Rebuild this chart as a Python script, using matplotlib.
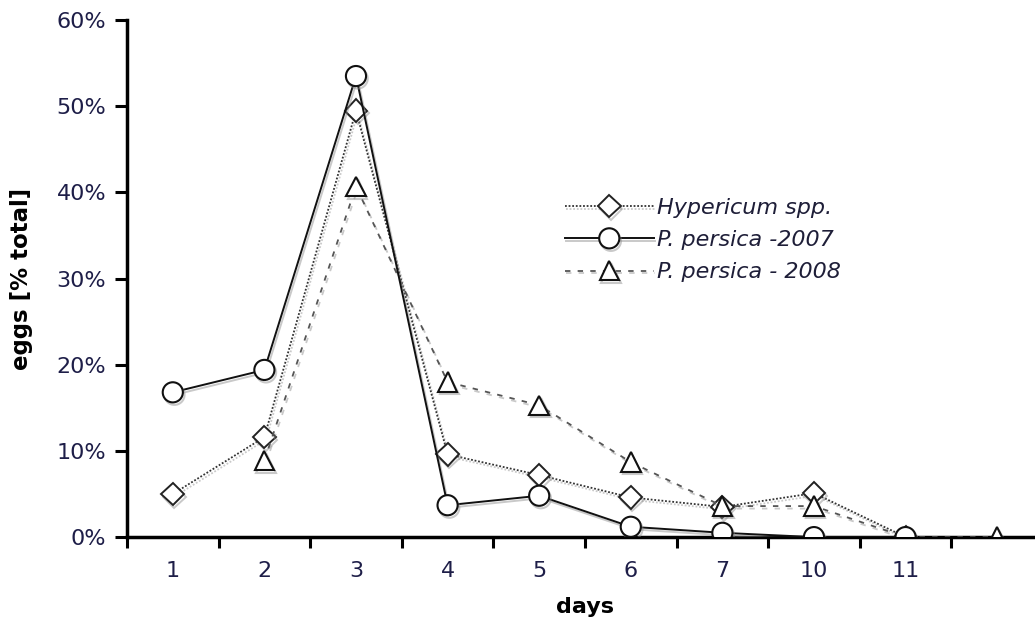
import matplotlib
matplotlib.use("Agg")
import matplotlib.pyplot as plt
import matplotlib.patheffects as pe
from matplotlib.ticker import FixedLocator, PercentFormatter

# Day categories (last slot carries no label)
days = ["1", "2", "3", "4", "5", "6", "7", "10", "11", ""]

# Share of eggs laid per day [% of total]
hypericum = [5.0, 11.6, 49.5, 9.6, 7.2, 4.6, 3.5, 5.1, 0.0]
persica_2007 = [16.8, 19.4, 53.5, 3.7, 4.8, 1.2, 0.5, 0.0, 0.0]
persica_2008 = [None, 8.9, 40.7, 18.0, 15.3, 8.7, 3.6, 3.6, 0.0, 0.0]

y_ticks = [0, 10, 20, 30, 40, 50, 60]

plt.rcParams["font.family"] = ["DejaVu Sans"]

fig = plt.figure(figsize=(10.35, 6.26), dpi=100)
ax = fig.add_axes([0.1227, 0.142, 0.885, 0.826])

shadow = [pe.SimpleLineShadow(offset=(1.2, -1.8), shadow_color="#888888", alpha=0.45),
          pe.Normal()]

def series(vals):
    xs = [i for i, v in enumerate(vals) if v is not None]
    ys = [v for v in vals if v is not None]
    return xs, ys

x, y = series(hypericum)
ax.plot(x, y, linestyle=(0, (1, 1)), color="#333333", linewidth=1.3,
        marker="D", markersize=11.5, markerfacecolor="white", markeredgecolor="#222222",
        markeredgewidth=1.4, label="Hypericum spp.", path_effects=shadow, zorder=3)

x, y = series(persica_2007)
ax.plot(x, y, linestyle="-", color="#111111", linewidth=1.4,
        marker="o", markersize=14.5, markerfacecolor="white", markeredgecolor="#111111",
        markeredgewidth=1.5, label="P. persica -2007", path_effects=shadow, zorder=4)

x, y = series(persica_2008)
ax.plot(x, y, linestyle=(0, (3, 4)), color="#555555", linewidth=1.3,
        marker="^", markersize=14, markerfacecolor="white", markeredgecolor="#111111",
        markeredgewidth=1.5, label="P. persica - 2008", path_effects=shadow, zorder=3)

ax.set_xlim(-0.5, 9.5)
ax.set_ylim(0, 60)

ax.set_yticks(y_ticks)
ax.yaxis.set_major_formatter(PercentFormatter(decimals=0))
ax.set_xticks(range(len(days)))
ax.set_xticklabels(days)
ax.xaxis.set_minor_locator(FixedLocator([i - 0.5 for i in range(len(days) + 1)]))

tick_color = "#1e1e48"
ax.tick_params(axis="x", which="major", length=0, pad=17, labelsize=16, labelcolor=tick_color)
ax.tick_params(axis="x", which="minor", length=8, width=2.2, direction="out")
ax.tick_params(axis="y", which="major", length=9, width=2.2, direction="out",
               pad=6, labelsize=16, labelcolor=tick_color)

for side in ("top", "right"):
    ax.spines[side].set_visible(False)
for side in ("left", "bottom"):
    ax.spines[side].set_linewidth(2.5)
ax.spines["bottom"].set_zorder(2)

ax.set_xlabel("days", fontsize=16, fontweight="bold", labelpad=12)
ax.set_ylabel("eggs [% total]", fontsize=16.5, fontweight="bold", labelpad=17)

leg = ax.legend(loc="upper left", bbox_to_anchor=(0.478, 0.656), frameon=False,
                borderpad=0, borderaxespad=0, handlelength=4.0, handletextpad=0.15,
                labelspacing=0.55, prop={"style": "italic", "size": 16})
for t in leg.get_texts():
    t.set_color("#1e1e38")

fig.savefig("out.png", dpi=100)
